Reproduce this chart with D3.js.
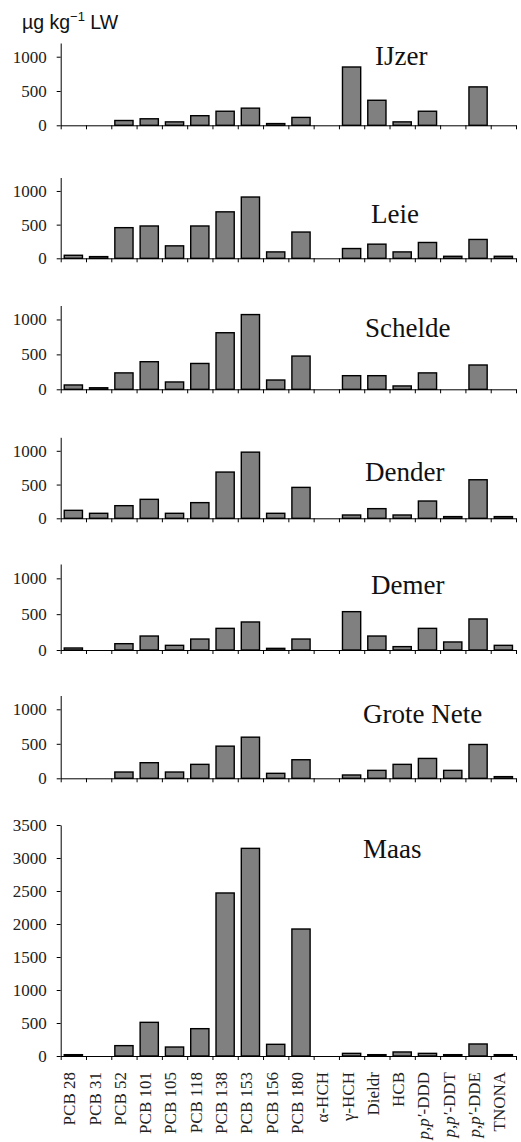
<!DOCTYPE html>
<html>
<head>
<meta charset="utf-8">
<script src="https://cdn.jsdelivr.net/npm/d3@7"></script>
<style>
  body { margin: 0; background: #fff; }
  svg { display: block; }
</style>
</head>
<body>
<div id="chart"></div>
<script>
// Compounds on the x axis (same order in every panel)
var categories = ['PCB 28', 'PCB 31', 'PCB 52', 'PCB 101', 'PCB 105', 'PCB 118',
                  'PCB 138', 'PCB 153', 'PCB 156', 'PCB 180', 'α-HCH', 'γ-HCH',
                  'Dieldr', 'HCB', 'p,p′-DDD', 'p,p′-DDT', 'p,p′-DDE', 'TNONA'];

// Rivers, one panel each
var rivers = ['IJzer', 'Leie', 'Schelde', 'Dender', 'Demer', 'Grote Nete', 'Maas'];

// µg/kg lipid weight
var ijzer     = [0, 0, 70, 95, 50, 140, 205, 250, 25, 115, 0, 850, 365, 50, 205, 0, 560, 0];
var leie      = [45, 25, 455, 480, 185, 480, 690, 910, 95, 390, 0, 145, 210, 95, 235, 30, 280, 30];
var schelde   = [62, 22, 235, 395, 105, 370, 810, 1070, 133, 476, 0, 195, 195, 48, 235, 0, 348, 0];
var dender    = [118, 74, 187, 281, 74, 232, 685, 980, 74, 458, 0, 49, 143, 49, 256, 25, 571, 25];
var demer     = [28, 0, 88, 195, 65, 153, 302, 391, 23, 153, 0, 535, 195, 47, 302, 112, 433, 65];
var groteNete = [0, 0, 91, 226, 91, 202, 466, 596, 72, 269, 0, 48, 115, 202, 288, 115, 490, 24];
var maas      = [20, 0, 157, 510, 136, 414, 2470, 3146, 177, 1924, 0, 40, 20, 61, 40, 20, 182, 20];

var series = [ijzer, leie, schelde, dender, demer, groteNete, maas];

// y axis tick labels
var smallTicks = [0, 500, 1000];
var maasTicks = [0, 500, 1000, 1500, 2000, 2500, 3000, 3500];

// Panel layout (pixel positions of each panel's baseline and top)
var baselines = [125.3, 258.3, 389.3, 518.3, 650, 778.3, 1056],
    tops      = [43, 177.5, 305.5, 437.3, 564, 695.5, 825],
    yMax      = [1200, 1200, 1200, 1200, 1200, 1200, 3500],
    titleX    = [375, 371, 365, 365, 371, 363, 363],
    titleY    = [65, 222.7, 336.7, 481, 594, 723.3, 858.3];

var width = 521,
    height = 1142,
    axisX = 60.7,
    axisRight = 516,
    serif = '"Liberation Serif", "Times New Roman", serif';

var svg = d3.select('#chart').append('svg')
    .attr('width', width)
    .attr('height', height);

svg.append('rect')
    .attr('width', width)
    .attr('height', height)
    .attr('fill', '#fff');

var x = d3.scaleBand()
    .domain(categories)
    .range([axisX, axisRight])
    .paddingInner(0.28)
    .paddingOuter(0.14);

// boundaries between categories, for the tick marks
var xIndex = d3.scaleLinear()
    .domain([0, categories.length])
    .range([axisX, axisRight]);

series.forEach(function(values, i) {
    var y = d3.scaleLinear()
        .domain([0, yMax[i]])
        .range([baselines[i], tops[i]]);

    var g = svg.append('g');

    // bars (zero values get no bar)
    g.selectAll('rect.bar')
        .data(values.map(function(v, k) { return {cat: categories[k], v: v}; })
                    .filter(function(d) { return d.v > 0; }))
        .enter().append('rect')
        .attr('class', 'bar')
        .attr('x', function(d) { return x(d.cat); })
        .attr('width', x.bandwidth())
        .attr('y', function(d) { return y(d.v); })
        .attr('height', function(d) { return y(0) - y(d.v); })
        .attr('fill', '#808080')
        .attr('stroke', '#000')
        .attr('stroke-width', 1.4);

    // y axis
    var yAxis = g.append('g')
        .attr('transform', 'translate(' + axisX + ',0)')
        .call(d3.axisLeft(y)
            .tickValues(i === 6 ? maasTicks : smallTicks)
            .tickSize(4)
            .tickSizeOuter(0)
            .tickPadding(10)
            .tickFormat(d3.format('d')));
    yAxis.attr('font-family', serif);
    yAxis.selectAll('text')
        .attr('font-family', serif)
        .attr('font-size', 17)
        .attr('fill', '#222');

    // x axis: line with ticks at category boundaries
    g.append('g')
        .attr('transform', 'translate(0,' + baselines[i] + ')')
        .call(d3.axisBottom(xIndex)
            .tickValues(d3.range(categories.length + 1))
            .tickSize(4)
            .tickSizeOuter(0)
            .tickFormat(''));

    g.selectAll('path.domain, line').attr('stroke', '#000');

    // river name
    g.append('text')
        .attr('x', titleX[i])
        .attr('y', titleY[i])
        .attr('font-family', serif)
        .attr('font-size', 27)
        .attr('fill', '#111')
        .text(rivers[i]);
});

// rotated compound names under the last panel
var labels = svg.append('g')
    .selectAll('text')
    .data(categories)
    .enter().append('text')
    .attr('transform', function(d) {
        return 'translate(' + (x(d) + x.bandwidth() / 2 - 4) + ',1072) rotate(-90)';
    })
    .attr('text-anchor', 'end')
    .attr('dy', '0.35em')
    .attr('font-family', serif)
    .attr('font-size', 17)
    .attr('fill', '#222');

labels.each(function(d) {
    var t = d3.select(this);
    if (d.indexOf('p,p′') === 0) {
        t.append('tspan').attr('font-style', 'italic').text('p,p′');
        t.append('tspan').text(d.slice(4));
    } else {
        t.text(d);
    }
});

// unit label
var unit = svg.append('text')
    .attr('x', 22)
    .attr('y', 29)
    .attr('font-family', '"Liberation Sans", Arial, sans-serif')
    .attr('font-size', 19.5)
    .attr('fill', '#111');
unit.append('tspan').text('µg kg');
unit.append('tspan').attr('dy', -8).attr('font-size', 13).text('−1');
unit.append('tspan').attr('dy', 8).text(' LW');
</script>
</body>
</html>
